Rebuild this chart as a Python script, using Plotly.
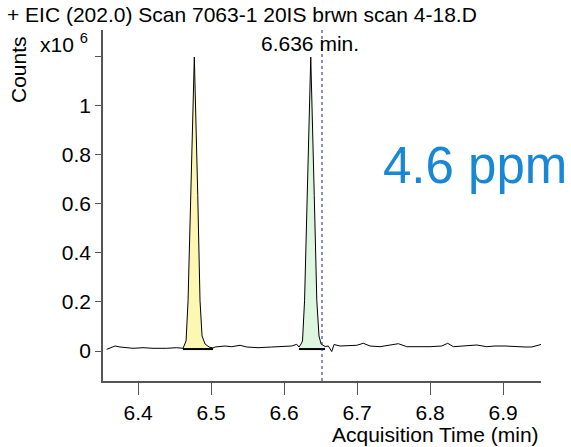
import plotly.graph_objects as go

# Acquisition time (min) and counts (x10^6)
time_min = [6.3571, 6.3685, 6.3753, 6.3845, 6.3932, 6.4068, 6.4205, 6.4393, 6.4530, 6.4616,
            6.4658, 6.4685, 6.4726, 6.4771, 6.4818, 6.4849, 6.4877, 6.4918, 6.4973, 6.5027,
            6.5055, 6.5192, 6.5284, 6.5397, 6.5489, 6.5644, 6.5832, 6.5968, 6.6105, 6.6174, 6.6205,
            6.6233, 6.6253, 6.6281, 6.6319, 6.6366, 6.6414, 6.6449, 6.6479, 6.6507, 6.6562,
            6.6607, 6.6653, 6.6685, 6.6767, 6.6904, 6.6996, 6.7086, 6.7178, 6.7315, 6.7429,
            6.7566, 6.7681, 6.7818, 6.8000, 6.8160, 6.8242, 6.8319, 6.8479, 6.8640, 6.8777,
            6.8890, 6.9027, 6.9164, 6.9301, 6.9393, 6.9530]
counts_e6 = [0.0069, 0.0204, 0.0163, 0.0135, 0.0110, 0.0135, 0.0110, 0.0110, 0.0135, 0.0110,
             0.0408, 0.204, 0.633, 1.196, 0.633, 0.204, 0.0612, 0.0286, 0.0163, 0.0122,
             0.0163, 0.0204, 0.0176, 0.0233, 0.0163, 0.0135, 0.0163, 0.0176, 0.0204, 0.0273, 0.0163,
             0.0286, 0.0408, 0.204, 0.633, 1.196, 0.633, 0.204, 0.0612, 0.0286, 0.0184,
             0.0204, -0.002, 0.0265, 0.0204, 0.0204, 0.0233, 0.0314, 0.0204, 0.0176, 0.0233,
             0.0298, 0.0176, 0.0163, 0.0176, 0.0204, 0.0314, 0.0176, 0.0204, 0.0245, 0.0176,
             0.0204, 0.0204, 0.0176, 0.0163, 0.0163, 0.0273]

# integrated peak windows (start, end) in minutes and their integration baseline
peak_windows = [(6.4616, 6.5027), (6.6205, 6.6562)]
peak_fills = ["rgba(252,248,176,0.95)", "rgba(220,245,222,0.95)"]
peak_baseline = 0.008
cursor_time = 6.652
cursor_label = "6.636 min."

x_ticks = [6.4, 6.5, 6.6, 6.7, 6.8, 6.9]
y_ticks = [0, 0.2, 0.4, 0.6, 0.8, 1]
y_extra_tick = [1.2]

FONT = "Liberation Sans, Arial, Helvetica, sans-serif"
FS = 21

fig = go.Figure()

for (t0, t1), col in zip(peak_windows, peak_fills):
    px = [t for t in time_min if t0 <= t <= t1]
    py = [c for t, c in zip(time_min, counts_e6) if t0 <= t <= t1]
    fig.add_trace(go.Scatter(x=px + [px[-1], px[0]], y=py + [peak_baseline, peak_baseline],
                             fill="toself", fillcolor=col, mode="none", hoverinfo="skip",
                             showlegend=False))
    fig.add_trace(go.Scatter(x=[t0, t1], y=[peak_baseline, peak_baseline], mode="lines",
                             line=dict(color="black", width=2), showlegend=False))

fig.add_trace(go.Scatter(x=time_min, y=counts_e6, mode="lines",
                         line=dict(color="black", width=1), showlegend=False))

fig.add_shape(type="line", x0=cursor_time, x1=cursor_time, y0=0, y1=1, yref="paper",
              line=dict(color="#1c1c8c", width=1, dash="3px,3px"))

fig.add_annotation(x=6.636, y=1.306, yref="y", text=cursor_label, showarrow=False,
                   yanchor="top", font=dict(size=FS, color="black", family=FONT), yshift=0)

axis_common = dict(showgrid=False, zeroline=False, showline=True, linecolor="#555",
                   linewidth=1.5, ticks="outside", tickcolor="#555", tickwidth=1,
                   tickfont=dict(size=FS, family=FONT))

fig.update_layout(
    width=571, height=447,
    margin=dict(l=103, r=30, t=30, b=66),
    paper_bgcolor="white", plot_bgcolor="white",
    font=dict(family=FONT, size=FS, color="black"),
    xaxis=dict(range=[6.352, 6.952], tickvals=x_ticks, ticktext=[str(v) for v in x_ticks],
               ticklen=12, **axis_common),
    yaxis=dict(range=[-0.122, 1.306], tickvals=y_ticks, ticktext=[str(v) for v in y_ticks],
               ticklen=6,
               minor=dict(tickvals=y_extra_tick, ticks="outside", ticklen=6,
                          tickcolor="#555", tickwidth=1, showgrid=False),
               **axis_common),
)

fig.add_annotation(xref="paper", yref="paper", x=(5 - 103) / 438, y=(381 - 14) / 351,
                   xanchor="left", yanchor="middle", showarrow=False,
                   text="+ EIC (202.0) Scan 7063-1 20IS brwn scan 4-18.D",
                   font=dict(size=FS, family=FONT))
fig.add_annotation(xref="paper", yref="paper", x=(18 - 103) / 438, y=(381 - 70) / 351,
                   xanchor="center", yanchor="middle", showarrow=False, textangle=-90,
                   text="Counts", font=dict(size=FS, family=FONT))
fig.add_annotation(xref="paper", yref="paper", x=(38 - 103) / 438, y=(381 - 43) / 351,
                   xanchor="left", yanchor="middle", showarrow=False,
                   text="x10 <sup>6</sup>", font=dict(size=FS, family=FONT))
fig.add_annotation(xref="paper", yref="paper", x=1, y=(381 - 435) / 351,
                   xanchor="right", yanchor="middle", showarrow=False,
                   text="Acquisition Time (min)", font=dict(size=FS, family=FONT))
fig.add_annotation(xref="paper", yref="paper", x=(571 - 103 - 2) / 438, y=(381 - 165) / 351,
                   xanchor="right", yanchor="middle", showarrow=False,
                   text="4.6 ppm", font=dict(size=51, family=FONT, color="#1787d6"))

fig.write_html("out.html")
